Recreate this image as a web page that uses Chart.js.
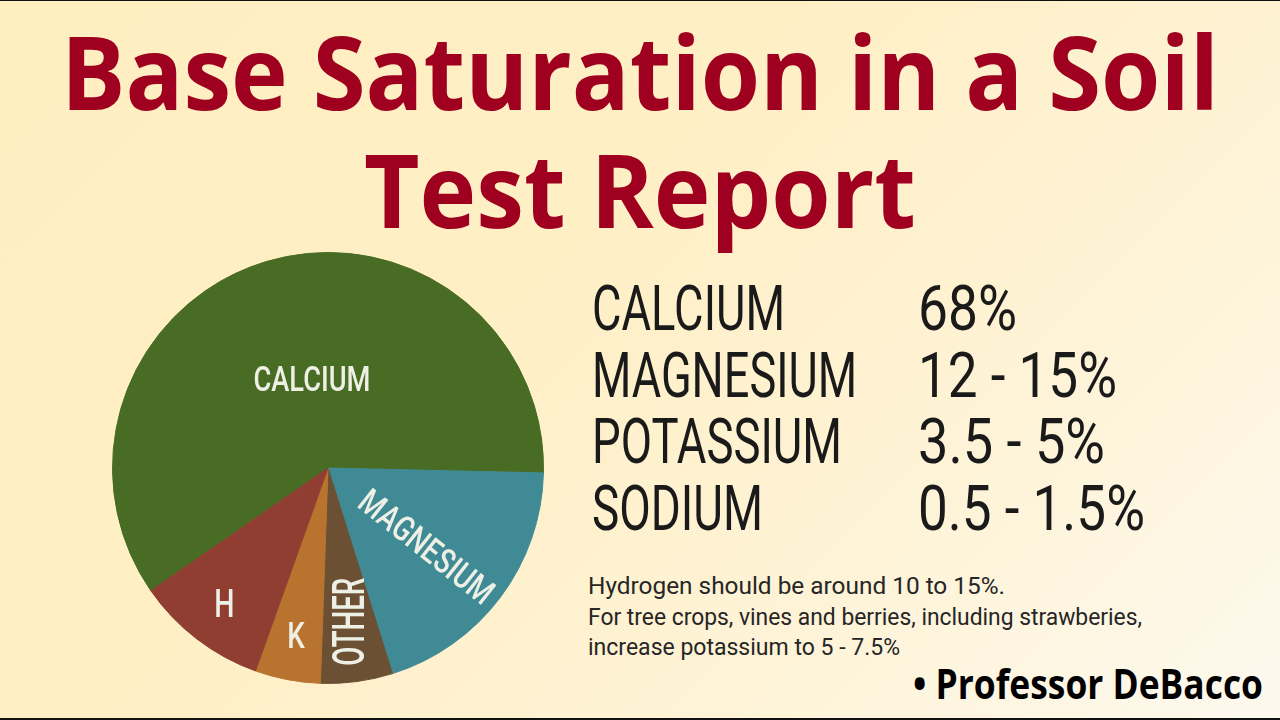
<!DOCTYPE html>
<html>
<head>
<meta charset="utf-8">
<script src="https://cdn.jsdelivr.net/npm/chart.js@4.4.1/dist/chart.umd.min.js"></script>
<style>
    html, body { margin: 0; padding: 0; }
    #stage {
        position: relative;
        width: 1280px;
        height: 720px;
        overflow: hidden;
        background: linear-gradient(135deg, #ffeec0 0%, #ffefc5 40%, #fef3d6 70%, #fdf9ee 100%);
    }
    #stage::before, #stage::after {
        content: '';
        position: absolute;
        left: 0;
        width: 1280px;
        background: #111;
    }
    #stage::before { top: 0; height: 1px; }
    #stage::after { bottom: 0; height: 2px; }
    .t {
        position: absolute;
        white-space: nowrap;
        line-height: 1;
        transform-origin: 0 0;
    }
    .title { font-family: 'Open Sans', sans-serif; font-weight: 700; font-size: 102px; color: #a0001f; }
    .row { font-family: Roboto, sans-serif; font-weight: 400; font-size: 63px; color: #1a1a1a; }
    .note { font-family: Roboto, sans-serif; font-weight: 400; font-size: 24px; color: #262626; }
    .credit { font-family: 'Open Sans', sans-serif; font-weight: 700; font-size: 42px; color: #000; }
    #pieBox { position: absolute; left: 112px; top: 252px; width: 432px; height: 432px; }
</style>
</head>
<body>
<div id="stage">
    <div id="pieBox"><canvas id="pie" width="432" height="432"></canvas></div>
</div>
<script>
// slice data, clockwise starting from the lower-left edge of calcium
const sliceNames = ['CALCIUM', 'MAGNESIUM', 'OTHER', 'K', 'H'];
const sliceValues = [60, 19.8, 5.4, 4.9, 9.9];
const sliceColors = ['#486c23', '#408a95', '#6b5034', '#b8742f', '#8f3e31'];

// recommended ranges table
const nutrients = ['CALCIUM', 'MAGNESIUM', 'POTASSIUM', 'SODIUM'];
const ranges = ['68%', '12 - 15%', '3.5 - 5%', '0.5 - 1.5%'];

const titleLines = ['Base Saturation in a Soil', 'Test Report'];
const notes = [
    'Hydrogen should be around 10 to 15%.',
    'For tree crops, vines and berries, including strawberies,',
    'increase potassium to 5 - 7.5%',
];
const credit = '\u2022 Professor DeBacco';

// measured text widths in the picture
const nutrientWidths = [193, 265, 250, 171];
const rangeWidths = [99, 199, 187, 227];
const noteWidths = [417, 554, 312];

// label placement inside each slice: t = fraction along arc, r = fraction of radius
const labelStyle = [
    { t: 0.53, r: 0.42, rot: 0, size: 35, sx: 0.78 },
    { t: 0.52, r: 0.585, rot: 'radial', size: 35, sx: 0.78 },
    { t: 0.5, r: 0.72, rot: -90, size: 44, sx: 0.63 },
    { t: 0.5, r: 0.79, rot: 0, size: 37, sx: 0.75 },
    { t: 0.5, r: 0.79, rot: 0, size: 38, sx: 0.75 },
];

const stage = document.getElementById('stage');

function addText(cls, text) {
    const el = document.createElement('div');
    el.className = 't ' + cls;
    el.textContent = text;
    stage.appendChild(el);
    return el;
}

function naturalWidth(el) {
    el.style.transform = 'none';
    return el.getBoundingClientRect().width;
}

function place(el, x, baseline, sx) {
    el.style.left = '0px';
    el.style.top = '0px';
    const marker = document.createElement('span');
    marker.style.cssText = 'display:inline-block;width:0;height:0;vertical-align:baseline';
    el.appendChild(marker);
    const b = marker.getBoundingClientRect().top - el.getBoundingClientRect().top;
    marker.remove();
    el.style.left = x + 'px';
    el.style.top = (baseline - b) + 'px';
    el.style.transform = 'scaleX(' + sx + ')';
}

function layout() {
    // title, both lines centred on 640
    const t1 = addText('title', titleLines[0]);
    const t2 = addText('title', titleLines[1]);
    const ts = 1158 / naturalWidth(t1);
    place(t1, 640 - naturalWidth(t1) * ts / 2, 110, ts);
    place(t2, 640 - naturalWidth(t2) * ts / 2, 228, ts);

    // table
    nutrients.forEach((n, i) => {
        const a = addText('row', n);
        place(a, 592, 330 + i * 66.7, nutrientWidths[i] / naturalWidth(a));
        const b = addText('row', ranges[i]);
        place(b, 918, 330 + i * 66.7, rangeWidths[i] / naturalWidth(b));
    });

    // notes
    notes.forEach((n, i) => {
        const el = addText('note', n);
        place(el, 588, 594 + i * 30.5, noteWidths[i] / naturalWidth(el));
    });

    const c = addText('credit', credit);
    place(c, 913, 699, 350 / naturalWidth(c));
}

const sliceLabels = {
    id: 'sliceLabels',
    afterDatasetsDraw(chart) {
        const ctx = chart.ctx;
        chart.getDatasetMeta(0).data.forEach((arc, i) => {
            const st = labelStyle[i];
            const a = arc.startAngle + (arc.endAngle - arc.startAngle) * st.t;
            const r = arc.outerRadius * st.r;
            ctx.save();
            ctx.translate(arc.x + Math.cos(a) * r, arc.y + Math.sin(a) * r);
            ctx.rotate(st.rot === 'radial' ? a : st.rot * Math.PI / 180);
            ctx.scale(st.sx, 1);
            ctx.font = '500 ' + st.size + 'px Roboto';
            ctx.fillStyle = '#eef0e6';
            ctx.textAlign = 'center';
            ctx.textBaseline = 'alphabetic';
            ctx.fillText(sliceNames[i], 0, st.size * 0.711 / 2);
            ctx.restore();
        });
    },
};

function drawPie() {
    new Chart(document.getElementById('pie'), {
        type: 'pie',
        data: {
            labels: sliceNames,
            datasets: [{
                data: sliceValues,
                backgroundColor: sliceColors,
                borderColor: sliceColors,
                borderWidth: 1,
            }],
        },
        options: {
            responsive: false,
            animation: false,
            rotation: 235.3,
            layout: { padding: 0 },
            plugins: {
                legend: { display: false },
                tooltip: { enabled: false },
            },
        },
        plugins: [sliceLabels],
    });
}

document.fonts.ready.then(() => {
    layout();
    drawPie();
});
</script>
</body>
</html>
